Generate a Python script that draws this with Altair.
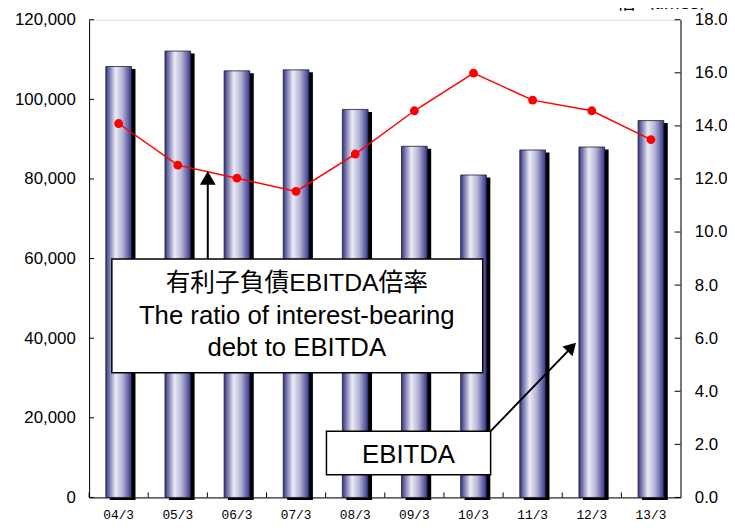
import altair as alt
import pandas as pd

# ---- data ----
periods = ["04/3", "05/3", "06/3", "07/3", "08/3", "09/3", "10/3", "11/3", "12/3", "13/3"]
ebitda = [108250, 112130, 107160, 107410, 97470, 88200, 81000, 87280, 88030, 94660]
ratio = [14.09, 12.52, 12.03, 11.53, 12.94, 14.57, 15.99, 14.97, 14.57, 13.48]
left_ticks = [0, 20000, 40000, 60000, 80000, 100000, 120000]
right_ticks = [0, 2, 4, 6, 8, 10, 12, 14, 16, 18]

df = pd.DataFrame({"period": periods, "ebitda": ebitda, "ratio": ratio})
df_lt = pd.DataFrame({"v": left_ticks})
df_rt = pd.DataFrame({"v": right_ticks})

W, H = 598, 483
FONT = "Liberation Sans, Noto Sans CJK JP, sans-serif"

xscale = alt.Scale(domain=periods, paddingInner=0, paddingOuter=0)
x_axis = alt.Axis(title=None, labelFont="Liberation Mono", labelFontSize=13, labelColor="black",
                  labelPadding=11, ticks=False, domainColor="black", domainWidth=1, labelAngle=0)
X = alt.X("period:N", scale=xscale, axis=x_axis, sort=periods)

yl_scale = alt.Scale(domain=[0, 120000], nice=False, zero=True)
yr_scale = alt.Scale(domain=[0, 18], nice=False, zero=True)

yl_axis = alt.Axis(title=None, values=left_ticks, format=",.0f", labelFont=FONT, labelFontSize=17,
                   labelColor="black", labelPadding=14, ticks=False, grid=False,
                   domainColor="black", domainWidth=1, orient="left")
yr_axis = alt.Axis(title=None, values=right_ticks, format=".1f", labelFont=FONT, labelFontSize=17,
                   labelColor="black", labelPadding=14, ticks=False, grid=False,
                   domainColor="black", domainWidth=1, orient="right")

grad = alt.Gradient(
    gradient="linear", x1=0, x2=1, y1=0, y2=0,
    stops=[
        alt.GradientStop(offset=0, color="#34347f"),
        alt.GradientStop(offset=0.12, color="#6f6fa8"),
        alt.GradientStop(offset=0.38, color="#ebebf6"),
        alt.GradientStop(offset=0.65, color="#b4b4d6"),
        alt.GradientStop(offset=1, color="#36368a"),
    ],
)

base = alt.Chart(df)

shadow = base.mark_bar(size=26, color="black", xOffset=4, yOffset=2.5).encode(
    x=X, y=alt.Y("ebitda:Q", scale=yl_scale, axis=yl_axis)
)
bars = base.mark_bar(size=26, fill=grad, stroke="#1c1c3c", strokeWidth=0.8).encode(
    x=X, y=alt.Y("ebitda:Q", scale=yl_scale, axis=yl_axis)
)
lticks = alt.Chart(df_lt).mark_rule(color="black", strokeWidth=1).encode(
    y=alt.Y("v:Q", scale=yl_scale, axis=yl_axis), x=alt.value(0), x2=alt.value(5)
)
xticks = base.mark_rule(color="black", strokeWidth=1).encode(
    x=alt.X("period:N", scale=xscale, axis=x_axis, sort=periods, bandPosition=0),
    y=alt.value(H), y2=alt.value(H - 5)
)
left_group = alt.layer(shadow, bars, lticks, xticks)

line = base.mark_line(color="#ff0000", strokeWidth=1.5).encode(
    x=X, y=alt.Y("ratio:Q", scale=yr_scale, axis=yr_axis)
)
pts = base.mark_circle(color="#ff0000", size=80, opacity=1).encode(
    x=X, y=alt.Y("ratio:Q", scale=yr_scale, axis=yr_axis)
)
rticks = alt.Chart(df_rt).mark_rule(color="black", strokeWidth=1).encode(
    y=alt.Y("v:Q", scale=yr_scale, axis=yr_axis), x=alt.value(W - 6), x2=alt.value(W)
)
right_group = alt.layer(line, pts, rticks)

one = alt.Data(values=[{"k": 1}])

# annotation 1 : ratio box + vertical arrow
arrow1_shaft = alt.Chart(one).mark_rule(color="black", strokeWidth=2).encode(
    x=alt.value(120), y=alt.value(166), y2=alt.value(242)
)
arrow1_head = alt.Chart(one).mark_point(shape="triangle-up", size=256, filled=True, color="black",
                                        opacity=1).encode(x=alt.value(120), y=alt.value(160))
box1 = alt.Chart(one).mark_rect(fill="white", stroke="black", strokeWidth=1.5).encode(
    x=alt.value(23), x2=alt.value(398), y=alt.value(242), y2=alt.value(357)
)
t1 = alt.Chart(one).mark_text(font=FONT, fontSize=25, color="black").encode(
    x=alt.value(210), y=alt.value(266), text=alt.value("有利子負債EBITDA倍率"))
t2 = alt.Chart(one).mark_text(font=FONT, fontSize=26, color="black").encode(
    x=alt.value(210), y=alt.value(300), text=alt.value("The ratio of interest-bearing"))
t3 = alt.Chart(one).mark_text(font=FONT, fontSize=26, color="black").encode(
    x=alt.value(210), y=alt.value(332), text=alt.value("debt to EBITDA"))

# annotation 2 : EBITDA box + diagonal arrow
arrow2_shaft = alt.Chart(one).mark_rule(color="black", strokeWidth=2).encode(
    x=alt.value(406), y=alt.value(416), x2=alt.value(488), y2=alt.value(331)
)
arrow2_head = alt.Chart(one).mark_point(shape="triangle-up", size=200, filled=True, color="black",
                                        opacity=1, angle=44).encode(x=alt.value(488), y=alt.value(331))
box2 = alt.Chart(one).mark_rect(fill="white", stroke="black", strokeWidth=1.5).encode(
    x=alt.value(240), x2=alt.value(406), y=alt.value(416), y2=alt.value(460)
)
t4 = alt.Chart(one).mark_text(font=FONT, fontSize=26, color="black").encode(
    x=alt.value(323), y=alt.value(440), text=alt.value("EBITDA"))

unit = alt.Chart(one).mark_text(font=FONT, fontSize=19, color="black", baseline="bottom").encode(
    x=alt.value(585), y=alt.value(-7), text=alt.value("倍（times）"))

annotations = alt.layer(arrow1_shaft, arrow1_head, box1, t1, t2, t3,
                        arrow2_shaft, box2, t4, arrow2_head, unit)

chart = alt.layer(left_group, right_group, annotations).resolve_scale(
    y="independent"
).properties(
    width=W, height=H,
    autosize=alt.AutoSizeParams(type="none"),
    padding={"left": 82, "top": 9, "right": 47, "bottom": 24},
).configure_view(stroke="#c8c8c8", strokeWidth=1).configure(background="white")

chart.save("out.html", embed_options={"renderer": "svg", "actions": False})
